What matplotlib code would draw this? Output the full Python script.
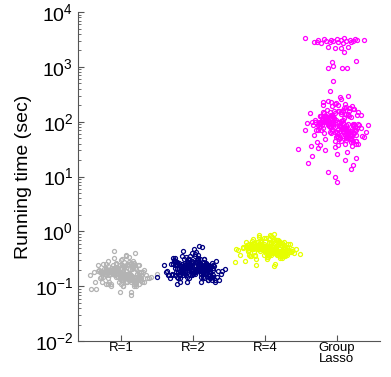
import matplotlib
matplotlib.use("Agg")
import matplotlib.pyplot as plt

plt.rcParams['font.family'] = ['Liberation Sans', 'DejaVu Sans']
plt.rcParams['mathtext.fontset'] = 'custom'
plt.rcParams['mathtext.rm'] = 'Liberation Sans'
plt.rcParams['mathtext.it'] = 'Liberation Sans'
plt.rcParams['mathtext.default'] = 'regular'

categories = ["R=1", "R=2", "R=4", "Group\nLasso"]
colors = ["#b3b3b3", "#000080", "#e6ff00", "#ff00ff"]

# running times (sec)
r1_time = [
    0.17, 0.21, 0.14, 0.19, 0.12, 0.26, 0.16, 0.23, 0.11, 0.18,
    0.15, 0.29, 0.20, 0.13, 0.17, 0.24, 0.10, 0.19, 0.16, 0.22,
    0.14, 0.33, 0.18, 0.12, 0.21, 0.15, 0.27, 0.09, 0.17, 0.20,
    0.13, 0.25, 0.16, 0.19, 0.11, 0.23, 0.14, 0.36, 0.18, 0.15,
    0.21, 0.08, 0.17, 0.28, 0.12, 0.19, 0.16, 0.24, 0.13, 0.20,
    0.10, 0.18, 0.31, 0.15, 0.22, 0.14, 0.17, 0.26, 0.11, 0.19,
    0.16, 0.41, 0.13, 0.21, 0.18, 0.09, 0.23, 0.15, 0.17, 0.30,
    0.12, 0.20, 0.16, 0.25, 0.14, 0.19, 0.10, 0.22, 0.18, 0.13,
    0.38, 0.16, 0.21, 0.12, 0.27, 0.15, 0.17, 0.08, 0.24, 0.19,
    0.14, 0.20, 0.11, 0.18, 0.44, 0.16, 0.23, 0.13, 0.29, 0.17,
    0.07, 0.21, 0.15, 0.19, 0.12, 0.26, 0.14, 0.18, 0.34, 0.16,
    0.18, 0.15, 0.20, 0.13, 0.17, 0.22, 0.14, 0.19, 0.16, 0.21,
    0.12, 0.18, 0.24, 0.15, 0.17, 0.13, 0.20, 0.16, 0.23, 0.14,
    0.19, 0.11, 0.17, 0.21, 0.15, 0.26, 0.18, 0.13, 0.16, 0.20,
    0.14, 0.22, 0.17, 0.12, 0.19, 0.15, 0.24, 0.18, 0.10, 0.16,
    0.21, 0.13, 0.17, 0.28, 0.15, 0.19, 0.12, 0.22, 0.16, 0.18,
    0.14, 0.20, 0.11, 0.17, 0.25, 0.15, 0.19, 0.13, 0.21, 0.16,
    0.18, 0.12, 0.23, 0.15, 0.17, 0.20, 0.14, 0.27, 0.16, 0.19,
    0.13, 0.21, 0.17, 0.10, 0.18, 0.15, 0.22, 0.14, 0.19, 0.16,
    0.24, 0.12, 0.17, 0.20, 0.15, 0.18, 0.13, 0.26, 0.16, 0.21,
    0.14, 0.19, 0.11, 0.17, 0.23, 0.15, 0.20, 0.13, 0.18, 0.16,
]
r1_jitter = [
    0.05, -0.12, 0.21, -0.03, 0.14, -0.25, 0.09, 0.02, -0.18, 0.27,
    -0.08, 0.16, -0.31, 0.11, -0.01, 0.24, -0.14, 0.06, -0.22, 0.19,
    0.03, -0.10, 0.30, -0.27, 0.12, -0.05, 0.18, -0.35, 0.08, -0.16,
    0.22, -0.02, 0.35, -0.20, 0.00, 0.15, -0.29, 0.07, -0.11, 0.26,
    -0.06, 0.13, -0.24, 0.04, 0.32, -0.15, 0.10, -0.33, 0.20, -0.09,
    0.17, -0.38, 0.01, 0.23, -0.13, 0.28, -0.04, 0.11, -0.21, 0.07,
    -0.17, 0.19, 0.14, -0.07, 0.25, -0.42, 0.04, -0.26, 0.12, -0.01,
    0.29, -0.19, 0.08, -0.12, 0.36, -0.23, 0.02, 0.16, -0.30, 0.10,
    0.06, -0.09, 0.21, -0.36, 0.13, 0.41, -0.05, -0.02, 0.18, -0.28,
    0.09, 0.31, -0.15, 0.24, -0.10, -0.44, 0.03, 0.27, -0.19, 0.49,
    0.14, -0.22, 0.05, -0.32, 0.19, -0.07, 0.38, -0.14, 0.11, 0.01,
    -0.02, 0.10, -0.17, 0.19, -0.08, 0.04, 0.23, -0.13, 0.14, -0.21,
    0.08, -0.26, 0.01, 0.17, -0.11, 0.26, -0.05, 0.12, -0.18, 0.06,
    -0.15, 0.20, 0.03, -0.24, 0.15, -0.07, 0.27, -0.01, 0.09, -0.19,
    0.13, -0.10, 0.22, -0.03, 0.07, -0.28, 0.16, -0.14, 0.02, 0.24,
    -0.06, 0.18, -0.22, 0.11, 0.00, -0.16, 0.21, -0.09, 0.05, -0.25,
    0.14, -0.04, 0.25, -0.12, 0.08, 0.19, -0.20, 0.03, -0.07, 0.12,
    -0.27, 0.06, 0.16, -0.02, 0.22, -0.15, 0.10, -0.08, 0.28, -0.18,
    0.01, 0.15, -0.11, 0.20, -0.23, 0.09, -0.04, 0.17, -0.13, 0.04,
    0.23, -0.17, 0.11, -0.06, 0.26, -0.01, 0.13, -0.21, 0.07, -0.10,
    -0.19, 0.02, 0.18, -0.14, 0.05, 0.21, -0.09, 0.12, -0.24, 0.00,
]

r2_time = [
    0.22, 0.27, 0.18, 0.24, 0.15, 0.31, 0.20, 0.26, 0.14, 0.23,
    0.19, 0.36, 0.25, 0.16, 0.21, 0.29, 0.13, 0.24, 0.20, 0.28,
    0.17, 0.42, 0.22, 0.15, 0.26, 0.19, 0.33, 0.12, 0.21, 0.25,
    0.16, 0.30, 0.20, 0.23, 0.14, 0.28, 0.18, 0.47, 0.22, 0.19,
    0.26, 0.11, 0.21, 0.35, 0.15, 0.24, 0.20, 0.29, 0.17, 0.25,
    0.13, 0.22, 0.39, 0.18, 0.27, 0.17, 0.21, 0.32, 0.14, 0.23,
    0.20, 0.52, 0.16, 0.26, 0.22, 0.12, 0.28, 0.19, 0.21, 0.37,
    0.15, 0.25, 0.20, 0.31, 0.17, 0.23, 0.13, 0.27, 0.22, 0.16,
    0.45, 0.20, 0.26, 0.15, 0.33, 0.18, 0.21, 0.12, 0.29, 0.24,
    0.17, 0.25, 0.14, 0.22, 0.55, 0.19, 0.28, 0.16, 0.35, 0.21,
    0.12, 0.26, 0.18, 0.23, 0.15, 0.30, 0.17, 0.22, 0.41, 0.20,
    0.22, 0.18, 0.25, 0.16, 0.21, 0.28, 0.17, 0.23, 0.19, 0.26,
    0.15, 0.22, 0.30, 0.18, 0.20, 0.16, 0.24, 0.19, 0.27, 0.17,
    0.23, 0.14, 0.21, 0.25, 0.18, 0.32, 0.22, 0.16, 0.20, 0.24,
    0.17, 0.27, 0.21, 0.15, 0.23, 0.19, 0.29, 0.22, 0.13, 0.20,
    0.25, 0.16, 0.21, 0.34, 0.18, 0.23, 0.15, 0.26, 0.20, 0.22,
    0.17, 0.24, 0.14, 0.21, 0.31, 0.19, 0.23, 0.16, 0.25, 0.20,
    0.22, 0.15, 0.28, 0.18, 0.21, 0.24, 0.17, 0.33, 0.19, 0.23,
    0.16, 0.26, 0.21, 0.13, 0.22, 0.18, 0.27, 0.17, 0.23, 0.20,
    0.29, 0.15, 0.21, 0.24, 0.19, 0.22, 0.16, 0.31, 0.20, 0.25,
    0.17, 0.23, 0.14, 0.21, 0.28, 0.18, 0.24, 0.16, 0.22, 0.19,
]
r2_jitter = [
    -0.04, 0.18, -0.21, 0.09, 0.27, -0.13, 0.02, -0.28, 0.15, -0.07,
    0.23, -0.16, 0.06, -0.33, 0.12, -0.01, 0.31, -0.19, 0.08, -0.24,
    0.17, 0.04, -0.11, 0.26, -0.06, 0.35, -0.26, 0.11, -0.15, 0.20,
    -0.30, 0.07, -0.02, 0.29, -0.18, 0.13, -0.09, 0.01, 0.24, -0.36,
    0.10, -0.23, 0.19, -0.05, 0.33, -0.12, 0.05, -0.27, 0.16, -0.40,
    0.21, -0.08, 0.03, 0.14, -0.20, 0.38, -0.14, 0.09, -0.32, 0.25,
    -0.03, 0.12, -0.25, 0.18, -0.10, 0.30, 0.00, 0.22, -0.17, 0.07,
    -0.22, 0.28, -0.06, 0.15, -0.29, 0.04, 0.36, -0.12, 0.19, -0.01,
    -0.14, 0.10, -0.31, 0.26, 0.06, -0.19, 0.16, -0.09, 0.32, -0.04,
    0.13, -0.26, 0.23, -0.15, 0.08, 0.40, -0.07, -0.35, 0.02, 0.44,
    -0.18, 0.11, -0.38, 0.20, -0.50, 0.05, -0.11, 0.27, -0.02, 0.17,
    0.07, -0.12, 0.19, -0.05, 0.13, -0.22, 0.02, 0.24, -0.16, 0.10,
    -0.09, 0.17, -0.27, 0.04, 0.21, -0.14, 0.08, -0.01, 0.26, -0.19,
    0.12, -0.06, 0.22, -0.24, 0.01, 0.15, -0.11, 0.28, -0.03, 0.18,
    -0.20, 0.09, -0.15, 0.25, -0.08, 0.03, -0.26, 0.14, 0.20, -0.02,
    0.16, -0.18, 0.06, -0.10, 0.23, -0.04, 0.11, -0.23, 0.27, -0.13,
    0.00, 0.19, -0.21, 0.08, -0.07, 0.14, -0.17, 0.24, -0.01, 0.05,
    -0.25, 0.13, 0.03, -0.12, 0.21, -0.09, 0.17, -0.28, 0.10, -0.05,
    0.22, -0.16, 0.06, 0.26, -0.20, 0.12, -0.03, 0.18, -0.14, 0.09,
    -0.08, 0.25, -0.22, 0.02, 0.15, -0.11, 0.20, -0.06, 0.07, -0.18,
    0.11, -0.01, 0.23, -0.15, 0.04, -0.24, 0.16, -0.10, 0.19, 0.00,
]

r4_time = [
    0.50, 0.58, 0.44, 0.53, 0.38, 0.64, 0.47, 0.55, 0.35, 0.52,
    0.45, 0.71, 0.56, 0.41, 0.49, 0.62, 0.32, 0.54, 0.48, 0.60,
    0.43, 0.78, 0.51, 0.37, 0.57, 0.46, 0.67, 0.29, 0.50, 0.59,
    0.40, 0.66, 0.48, 0.54, 0.34, 0.61, 0.44, 0.85, 0.52, 0.47,
    0.57, 0.26, 0.50, 0.73, 0.39, 0.55, 0.46, 0.63, 0.42, 0.58,
    0.33, 0.51, 0.80, 0.45, 0.60, 0.43, 0.49, 0.69, 0.36, 0.53,
    0.48, 0.90, 0.41, 0.57, 0.52, 0.28, 0.62, 0.46, 0.50, 0.75,
    0.38, 0.56, 0.47, 0.65, 0.42, 0.53, 0.31, 0.59, 0.51, 0.40,
    0.83, 0.49, 0.57, 0.37, 0.70, 0.45, 0.52, 0.24, 0.61, 0.54,
    0.42, 0.56, 0.35, 0.50, 0.88, 0.46, 0.63, 0.39, 0.72, 0.48,
    0.23, 0.58, 0.44, 0.53, 0.37, 0.65, 0.43, 0.51, 0.77, 0.47,
    0.50, 0.44, 0.56, 0.40, 0.48, 0.62, 0.42, 0.53, 0.46, 0.59,
    0.38, 0.51, 0.66, 0.45, 0.49, 0.41, 0.55, 0.47, 0.61, 0.43,
    0.52, 0.36, 0.49, 0.57, 0.44, 0.70, 0.50, 0.40, 0.47, 0.54,
    0.42, 0.60, 0.48, 0.37, 0.53, 0.45, 0.64, 0.51, 0.34, 0.47,
    0.56, 0.41, 0.49, 0.73, 0.44, 0.52, 0.38, 0.58, 0.46, 0.50,
    0.43, 0.55, 0.35, 0.48, 0.68, 0.45, 0.53, 0.40, 0.57, 0.47,
    0.50, 0.37, 0.62, 0.44, 0.49, 0.55, 0.42, 0.71, 0.46, 0.52,
    0.39, 0.58, 0.48, 0.33, 0.51, 0.44, 0.60, 0.42, 0.53, 0.47,
    0.64, 0.38, 0.49, 0.55, 0.45, 0.51, 0.40, 0.67, 0.47, 0.56,
    0.42, 0.52, 0.36, 0.48, 0.61, 0.44, 0.54, 0.39, 0.50, 0.46,
]
r4_jitter = [
    0.06, -0.15, 0.22, -0.02, 0.30, -0.10, 0.13, 0.00, -0.20, 0.26,
    -0.07, 0.18, -0.25, 0.09, 0.02, 0.24, -0.13, 0.15, -0.18, 0.32,
    0.04, -0.09, 0.28, -0.22, 0.11, -0.03, 0.20, -0.28, 0.08, 0.35,
    0.17, -0.05, 0.37, -0.16, 0.03, 0.12, -0.24, 0.07, -0.11, 0.27,
    -0.04, 0.14, -0.19, 0.05, 0.29, -0.12, 0.10, -0.26, 0.19, -0.08,
    0.21, -0.01, 0.09, 0.25, -0.14, 0.33, -0.06, 0.16, -0.21, 0.01,
    -0.17, 0.12, 0.23, -0.09, 0.31, -0.42, 0.06, -0.23, 0.14, -0.02,
    0.28, -0.18, 0.10, -0.11, 0.34, -0.27, 0.03, 0.18, -0.30, 0.40,
    0.08, -0.07, 0.21, -0.35, 0.15, 0.38, -0.04, -0.12, 0.24, -0.26,
    0.10, 0.26, -0.14, 0.19, -0.08, -0.38, 0.05, 0.49, -0.17, 0.43,
    0.13, -0.20, 0.07, -0.31, 0.17, -0.05, 0.36, -0.10, 0.02, -0.40,
    -0.03, 0.14, -0.18, 0.22, -0.07, 0.08, 0.26, -0.12, 0.17, -0.22,
    0.05, -0.25, 0.11, 0.20, -0.10, 0.29, -0.02, 0.15, -0.16, 0.03,
    -0.13, 0.24, 0.06, -0.20, 0.18, -0.05, 0.31, 0.01, 0.12, -0.17,
    0.16, -0.08, 0.25, -0.01, 0.10, -0.24, 0.19, -0.11, 0.04, 0.27,
    -0.04, 0.21, -0.19, 0.13, 0.02, -0.14, 0.23, -0.06, 0.09, -0.21,
    0.17, -0.02, 0.28, -0.09, 0.11, 0.22, -0.15, 0.06, -0.05, 0.15,
    -0.23, 0.08, 0.19, 0.00, 0.25, -0.12, 0.13, -0.06, 0.30, -0.16,
    0.04, 0.18, -0.08, 0.23, -0.20, 0.12, -0.01, 0.20, -0.10, 0.07,
    0.26, -0.14, 0.14, -0.03, 0.28, 0.02, 0.16, -0.18, 0.10, -0.07,
    -0.16, 0.05, 0.21, -0.11, 0.08, 0.24, -0.06, 0.15, -0.21, 0.03,
]

gl_time = [
    85, 120, 60, 95, 45, 150, 75, 110, 38, 90,
    65, 190, 100, 52, 80, 135, 30, 105, 70, 125,
    55, 240, 88, 42, 115, 68, 170, 24, 82, 130,
    48, 160, 78, 98, 35, 140, 58, 280, 92, 72,
    118, 20, 86, 200, 40, 108, 66, 145, 50, 122,
    28, 94, 220, 62, 128, 56, 84, 175, 33, 102,
    76, 300, 46, 112, 90, 18, 155, 70, 96, 210,
    44, 116, 74, 165, 52, 100, 26, 138, 88, 40,
    260, 80, 124, 36, 185, 64, 104, 14, 148, 106,
    54, 132, 32, 92, 12, 70, 158, 22, 230, 86,
    10, 126, 58, 98, 16, 180, 62, 8, 370, 550,
    90, 70, 110, 55, 82, 140, 62, 100, 75, 125,
    48, 88, 160, 66, 95, 58, 118, 78, 145, 60,
    105, 42, 86, 130, 68, 190, 92, 52, 80, 115,
    57, 150, 84, 45, 108, 72, 175, 96, 38, 79,
    122, 54, 88, 210, 64, 102, 47, 135, 76, 93,
    59, 112, 40, 83, 165, 69, 104, 50, 128, 74,
    91, 44, 155, 65, 87, 119, 61, 230, 77, 99,
    53, 132, 85, 36, 94, 67, 142, 58, 107, 81,
    170, 49, 89, 126, 71, 97, 56, 200, 80, 114,
    63, 101, 43, 86, 150, 66, 117, 51, 92, 73,
    3300, 2900, 3100, 2800, 3200, 3000, 2300, 3150, 2950, 2250,
    3250, 2850, 3050, 2700, 3350, 2950, 2300, 3100, 2800, 3000,
    3200, 2900, 2250, 3100, 2700, 3050, 1850, 1300, 1250, 1050,
    950, 950, 950,
]
gl_jitter = [
    0.03, -0.14, 0.19, -0.05, 0.26, -0.20, 0.08, -0.01, -0.24, 0.15,
    -0.10, 0.21, -0.30, 0.12, -0.03, 0.28, -0.16, 0.06, -0.22, 0.17,
    0.00, -0.12, 0.31, -0.28, 0.10, -0.07, 0.23, -0.35, 0.05, -0.18,
    0.20, -0.04, 0.33, -0.25, -0.02, 0.13, -0.32, 0.04, -0.13, 0.25,
    -0.08, 0.11, -0.26, 0.02, 0.29, -0.17, 0.09, -0.38, 0.18, -0.11,
    0.14, -0.42, -0.01, 0.22, -0.15, 0.35, -0.06, 0.10, -0.27, 0.07,
    -0.19, 0.16, 0.12, -0.09, 0.24, -0.40, 0.01, -0.29, 0.08, -0.03,
    0.27, -0.21, 0.06, -0.14, 0.38, -0.23, 0.00, 0.15, -0.33, 0.11,
    0.05, -0.10, 0.19, -0.36, 0.13, 0.41, -0.05, 0.20, 0.30, -0.31,
    0.09, 0.34, -0.54, 0.22, -0.12, -0.45, 0.03, 0.26, -0.19, 0.43,
    -0.02, -0.24, 0.05, -0.34, 0.23, 0.18, -0.08, 0.00, -0.10, -0.06,
    -0.05, 0.12, -0.19, 0.21, -0.09, 0.06, 0.24, -0.14, 0.15, -0.24,
    0.03, -0.27, 0.09, 0.18, -0.12, 0.27, -0.04, 0.13, -0.18, 0.01,
    -0.15, 0.22, 0.04, -0.22, 0.16, -0.07, 0.29, -0.01, 0.10, -0.19,
    0.14, -0.10, 0.23, -0.03, 0.08, -0.26, 0.17, -0.13, 0.02, 0.25,
    -0.06, 0.19, -0.21, 0.11, 0.00, -0.16, 0.21, -0.08, 0.07, -0.23,
    0.15, -0.04, 0.26, -0.11, 0.09, 0.20, -0.17, 0.04, -0.07, 0.13,
    -0.25, 0.06, 0.17, -0.02, 0.23, -0.14, 0.11, -0.08, 0.28, -0.18,
    0.02, 0.16, -0.10, 0.21, -0.22, 0.10, -0.03, 0.18, -0.12, 0.05,
    0.24, -0.16, 0.12, -0.05, 0.26, 0.00, 0.14, -0.20, 0.08, -0.09,
    -0.18, 0.03, 0.19, -0.13, 0.06, 0.22, -0.08, 0.13, -0.23, 0.01,
    -0.45, -0.32, -0.27, -0.28, -0.18, -0.15, -0.12, -0.08, -0.05, -0.03,
    0.00, 0.02, 0.05, 0.08, 0.10, 0.13, 0.15, 0.18, 0.20, 0.22,
    0.25, -0.10, 0.05, 0.28, -0.22, 0.38, 0.10, 0.26, -0.07, -0.05,
    -0.12, 0.07, 0.14,
]

times = [r1_time, r2_time, r4_time, gl_time]
jitters = [r1_jitter, r2_jitter, r4_jitter, gl_jitter]

fig = plt.figure(figsize=(3.91, 3.77), dpi=100)
ax = fig.add_axes([0.2, 0.095, 0.772, 0.873])

for i, (t, jit, c) in enumerate(zip(times, jitters, colors)):
    xs = [i + 1 + j for j in jit]
    ax.plot(xs, t, 'o', mfc='none', mec=c, ms=2.9, mew=0.9)

ax.set_yscale('log')
ax.set_ylim(1e-2, 1e4)
ax.set_xlim(0.4, 4.6)
ax.set_xticks([1, 2, 3, 4])
ax.set_xticklabels(categories, fontsize=9.5, linespacing=0.9)
ax.set_ylabel("Running time (sec)", fontsize=14, labelpad=2)
ax.tick_params(axis='y', which='major', labelsize=14, direction='in', length=4)
ax.tick_params(axis='y', which='minor', direction='in', length=2)
ax.tick_params(axis='x', direction='in', length=4, pad=0.5)
for s in ['top', 'right']:
    ax.spines[s].set_visible(False)
for s in ['left', 'bottom']:
    ax.spines[s].set_color('#555555')
ax.tick_params(colors='#555555', labelcolor='black', which='both')

fig.savefig("out.png", dpi=100)
